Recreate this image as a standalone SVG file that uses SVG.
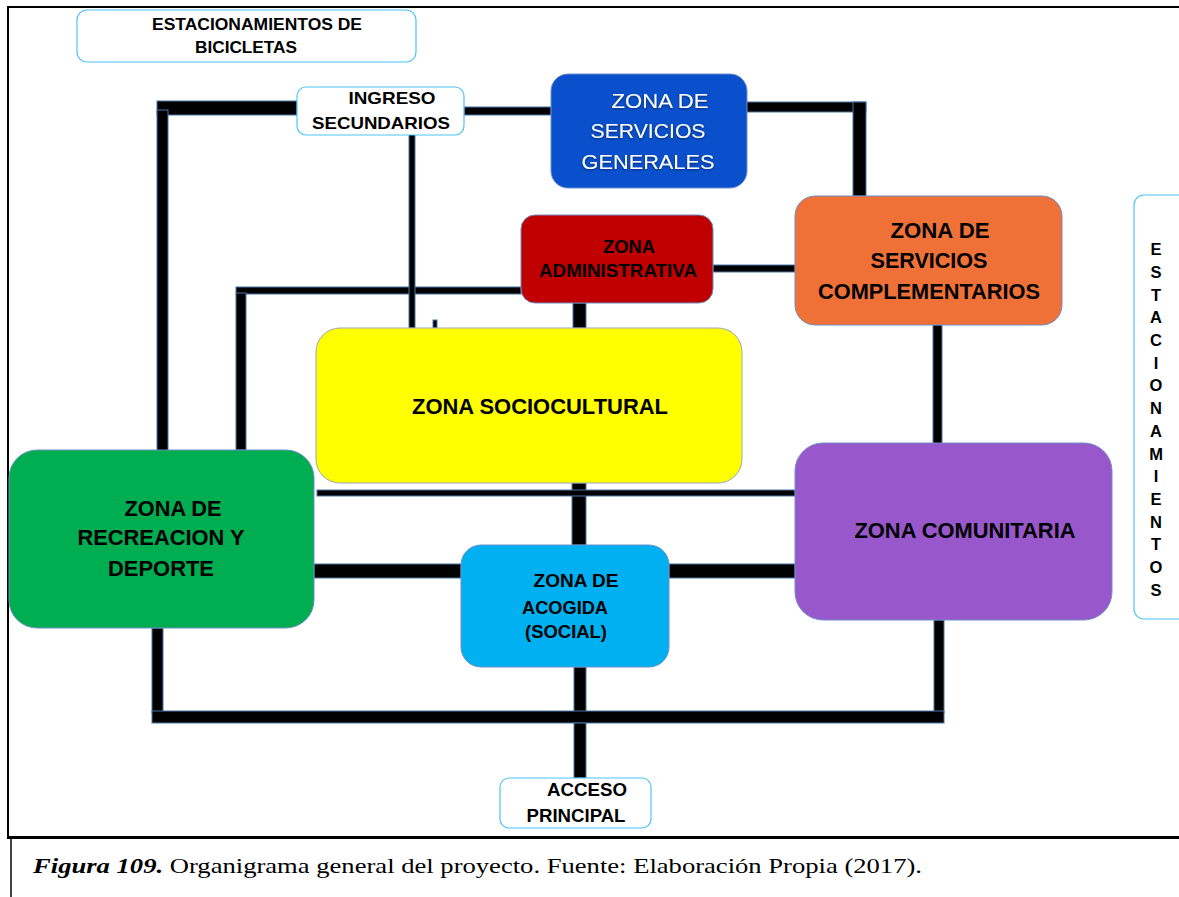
<svg xmlns="http://www.w3.org/2000/svg" width="1179" height="897" viewBox="0 0 1179 897">
<defs>
<style>
.c{fill:#000;stroke:#4a76a8;stroke-width:1}
.w{fill:#fff;stroke:#4fc3f7;stroke-width:1.2}
.z{stroke:#6e8fc7;stroke-width:1}
.t{font-family:"Liberation Sans",Arial,sans-serif;font-weight:bold;fill:#000;text-anchor:middle}
.g{font-family:"Liberation Sans",Arial,sans-serif;fill:#fff;text-anchor:middle;font-size:21px}
</style>
<filter id="sh" x="-10%" y="-20%" width="120%" height="140%">
<feDropShadow dx="0" dy="1" stdDeviation="1.2" flood-color="#000" flood-opacity="0.5"/>
</filter>
</defs>
<rect width="1179" height="897" fill="#fff"/>
<g id="frame">
<path d="M8,7 H1179 M8,6 V838" stroke="#000" stroke-width="2" fill="none"/>
<path d="M7,837.5 H1179" stroke="#000" stroke-width="3" fill="none"/>
<path d="M11,838 V897" stroke="#000" stroke-width="1.5" fill="none"/>
</g>
<g id="connectors">
<rect class="c" x="157" y="101" width="140" height="14"/>
<rect class="c" x="157" y="110" width="11" height="345"/>
<rect class="c" x="464" y="107" width="87" height="8"/>
<rect class="c" x="740" y="102" width="126" height="10"/>
<rect class="c" x="853" y="102" width="13" height="94"/>
<rect class="c" x="713" y="265" width="82" height="7"/>
<rect class="c" x="236" y="287" width="285" height="7"/>
<rect class="c" x="236" y="293" width="10" height="157"/>
<rect class="c" x="409" y="129" width="6" height="199"/>
<rect class="c" x="433" y="320" width="4" height="8"/>
<rect class="c" x="573" y="303" width="13" height="25"/>
<rect class="c" x="572" y="483" width="14" height="62"/>
<rect class="c" x="317" y="490" width="478" height="6"/>
<rect class="c" x="314" y="564" width="147" height="14"/>
<rect class="c" x="669" y="564" width="126" height="14"/>
<rect class="c" x="933" y="325" width="9" height="122"/>
<rect class="c" x="152" y="628" width="11" height="85"/>
<rect class="c" x="934" y="620" width="10" height="93"/>
<rect class="c" x="574" y="667" width="12" height="45"/>
<rect class="c" x="152" y="711" width="792" height="12"/>
<rect class="c" x="574" y="723" width="12" height="55"/>
</g>
<g id="estacionamientos-bicicletas">
<rect class="w" x="77" y="10" width="339" height="52" rx="10"/>
<text class="t" font-size="16.5" x="257" y="30" textLength="210" lengthAdjust="spacingAndGlyphs">ESTACIONAMIENTOS DE</text>
<text class="t" font-size="16.5" x="246" y="53" textLength="102" lengthAdjust="spacingAndGlyphs">BICICLETAS</text>
</g>
<g id="ingreso-secundarios">
<rect class="w" x="297" y="87" width="167" height="48" rx="9"/>
<text class="t" font-size="17" x="392" y="104" textLength="87" lengthAdjust="spacingAndGlyphs">INGRESO</text>
<text class="t" font-size="17" x="381" y="129" textLength="138" lengthAdjust="spacingAndGlyphs">SECUNDARIOS</text>
</g>
<g id="zona-servicios-generales">
<rect class="z" x="551" y="74" width="196" height="114" rx="17" fill="#0a50cc"/>
<g filter="url(#sh)">
<text class="g" x="660" y="108" textLength="97" lengthAdjust="spacingAndGlyphs">ZONA DE</text>
<text class="g" x="648" y="138" textLength="115" lengthAdjust="spacingAndGlyphs">SERVICIOS</text>
<text class="g" x="648" y="169" textLength="133" lengthAdjust="spacingAndGlyphs">GENERALES</text>
</g>
</g>
<g id="zona-administrativa">
<rect class="z" x="521" y="215" width="192" height="88" rx="14" fill="#c00000"/>
<text class="t" font-size="18" x="629" y="253" textLength="52" lengthAdjust="spacingAndGlyphs">ZONA</text>
<text class="t" font-size="18" x="618" y="277" textLength="158" lengthAdjust="spacingAndGlyphs">ADMINISTRATIVA</text>
</g>
<g id="zona-servicios-complementarios">
<rect class="z" x="795" y="196" width="267" height="129" rx="20" fill="#f07137"/>
<text class="t" font-size="21.5" x="940" y="238" textLength="99" lengthAdjust="spacingAndGlyphs">ZONA DE</text>
<text class="t" font-size="21.5" x="929" y="268" textLength="117" lengthAdjust="spacingAndGlyphs">SERVICIOS</text>
<text class="t" font-size="21.5" x="929" y="299" textLength="222" lengthAdjust="spacingAndGlyphs">COMPLEMENTARIOS</text>
</g>
<g id="zona-sociocultural">
<rect x="316" y="328" width="426" height="155" rx="24" fill="#ffff00" stroke="#9aa6b8" stroke-width="1"/>
<text class="t" font-size="21.5" x="540" y="414" textLength="256" lengthAdjust="spacingAndGlyphs">ZONA SOCIOCULTURAL</text>
</g>
<g id="zona-recreacion-deporte">
<rect class="z" x="9" y="450" width="305" height="178" rx="28" fill="#00ad50"/>
<text class="t" font-size="21.5" x="173" y="516" textLength="97" lengthAdjust="spacingAndGlyphs">ZONA DE</text>
<text class="t" font-size="21.5" x="161" y="545" textLength="167" lengthAdjust="spacingAndGlyphs">RECREACION Y</text>
<text class="t" font-size="21.5" x="161" y="576" textLength="106" lengthAdjust="spacingAndGlyphs">DEPORTE</text>
</g>
<g id="zona-comunitaria">
<rect class="z" x="795" y="443" width="317" height="177" rx="28" fill="#9857cb"/>
<text class="t" font-size="21.5" x="965" y="538" textLength="221" lengthAdjust="spacingAndGlyphs">ZONA COMUNITARIA</text>
</g>
<g id="zona-acogida">
<rect class="z" x="461" y="545" width="208" height="122" rx="20" fill="#00b0f0"/>
<text class="t" font-size="18.5" x="576" y="587" textLength="85" lengthAdjust="spacingAndGlyphs">ZONA DE</text>
<text class="t" font-size="18.5" x="565" y="614" textLength="86" lengthAdjust="spacingAndGlyphs">ACOGIDA</text>
<text class="t" font-size="18.5" x="566" y="638" textLength="82" lengthAdjust="spacingAndGlyphs">(SOCIAL)</text>
</g>
<g id="acceso-principal">
<rect class="w" x="500" y="778" width="151" height="50" rx="9"/>
<text class="t" font-size="18.5" x="587" y="796" textLength="80" lengthAdjust="spacingAndGlyphs">ACCESO</text>
<text class="t" font-size="18.5" x="576" y="822" textLength="99" lengthAdjust="spacingAndGlyphs">PRINCIPAL</text>
</g>
<g id="estacionamientos">
<rect class="w" x="1134" y="195" width="60" height="424" rx="10"/>
<text class="t" font-size="16.5">
<tspan x="1156" y="255">E</tspan><tspan x="1156" y="278">S</tspan><tspan x="1156" y="301">T</tspan><tspan x="1156" y="323">A</tspan><tspan x="1156" y="346">C</tspan><tspan x="1156" y="369">I</tspan><tspan x="1156" y="391">O</tspan><tspan x="1156" y="414">N</tspan><tspan x="1156" y="437">A</tspan><tspan x="1156" y="460">M</tspan><tspan x="1156" y="482">I</tspan><tspan x="1156" y="505">E</tspan><tspan x="1156" y="528">N</tspan><tspan x="1156" y="550">T</tspan><tspan x="1156" y="573">O</tspan><tspan x="1156" y="596">S</tspan>
</text>
</g>
<g id="caption">
<text font-family="'Liberation Serif','Times New Roman',serif" font-size="21" x="33" y="873" fill="#000" textLength="889" lengthAdjust="spacingAndGlyphs"><tspan font-weight="bold" font-style="italic">Figura 109.</tspan> Organigrama general del proyecto. Fuente: Elaboración Propia (2017).</text>
</g>
</svg>
